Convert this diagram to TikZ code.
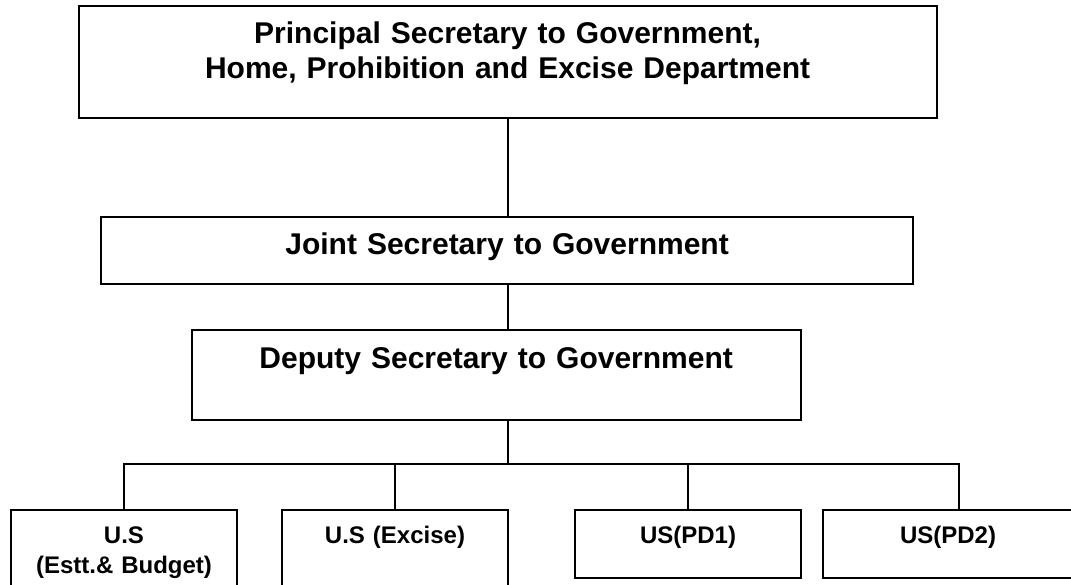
\documentclass[tikz,border=0pt]{standalone}
\usepackage{fontspec}
\setmainfont{Liberation Sans}
\usetikzlibrary{positioning}
\begin{document}
\begin{tikzpicture}
    [
        x=1pt, y=-1pt,
        post/.style = {draw, shape=rectangle, anchor=north, line width=1.8pt, inner sep=0pt, align=center, font=\bfseries\fontsize{30}{35}\selectfont},
        sub/.style = {post, text width=226pt, text height=34pt, font=\bfseries\fontsize{24}{30}\selectfont},
        link/.style = {line width=1.8pt},
    ]
    \useasboundingbox (0,0) rectangle (1071,584);
    \clip (0,0) rectangle (1071,584);

    \node[post, text width=858pt, text height=38pt, text depth=74pt] (psec) at (507.6,5) {Principal Secretary to Government,\\Home, Prohibition and Excise Department};
    \node[post, text width=812pt, text height=38pt, text depth=29pt] (jsec) at (507.1,216) {Joint Secretary to Government};
    \node[post, text width=609pt, text height=38.7pt, text depth=51.3pt] (dsec) at (496.2,329) {Deputy Secretary to Government};

    \node[sub, text depth=47pt] (usb) at (124,509) {U.S\\(Estt.\& Budget)};
    \node[sub, text depth=47pt] (usx) at (395,509) {U.S (Excise)};
    \node[sub, text depth=34pt] (uspa) at (688,509) {US(PD1)};
    \node[sub, text width=250pt, text depth=34pt] (uspb) at (948,509) {US(PD2)};

    \coordinate (bus) at (507.6,463.7);
    \coordinate (pdtop) at (958.7,509);

    \draw[link] (psec.south) -- (jsec.north -| psec.south);
    \draw[link] (jsec.south -| psec.south) -- (dsec.north -| psec.south);
    \draw[link] (dsec.south -| bus) -- (bus);
    \draw[link] (usb.north) -- (usb.north |- bus) -- (pdtop |- bus) -- (pdtop);
    \draw[link] (usx.north |- bus) -- (usx.north);
    \draw[link] (uspa.north |- bus) -- (uspa.north);
\end{tikzpicture}
\end{document}
